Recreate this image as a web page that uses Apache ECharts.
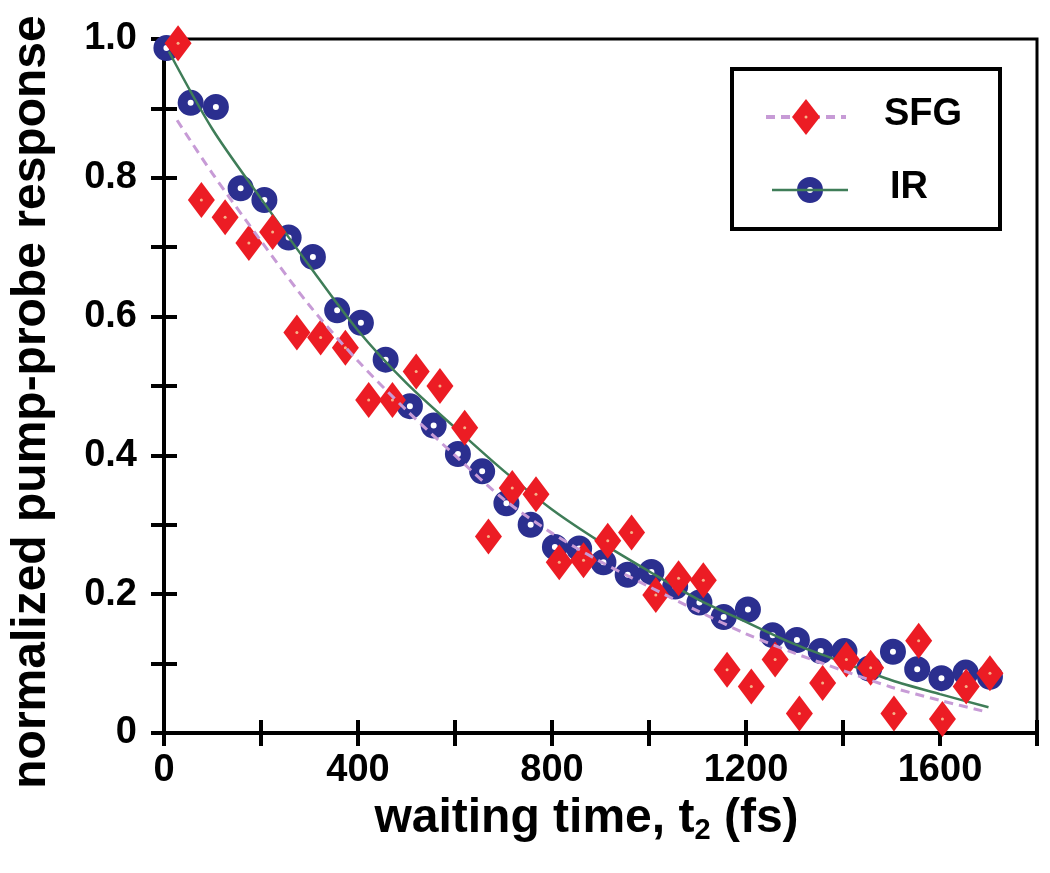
<!DOCTYPE html>
<html>
<head>
<meta charset="utf-8">
<script src="https://cdn.jsdelivr.net/npm/echarts@6/dist/echarts.min.js"></script>
<style>
html,body{margin:0;padding:0;background:#fff;}
#chart{width:1050px;height:873px;}
</style>
</head>
<body>
<div id="chart"></div>
<script>
// ---- data ----
const irX = [5, 55, 107, 158, 207, 257, 307, 357, 406, 457, 507, 556, 606, 656, 706, 756, 806, 856, 906, 956, 1005, 1054, 1104, 1154, 1204, 1255, 1305, 1354, 1403, 1454, 1503, 1553, 1603, 1653, 1703];
const irY = [0.987, 0.908, 0.902, 0.785, 0.768, 0.714, 0.686, 0.609, 0.591, 0.538, 0.471, 0.443, 0.402, 0.377, 0.331, 0.300, 0.268, 0.266, 0.246, 0.228, 0.232, 0.211, 0.188, 0.167, 0.178, 0.141, 0.134, 0.118, 0.118, 0.093, 0.117, 0.092, 0.079, 0.087, 0.081];

const sfgX = [29, 77, 126, 175, 224, 274, 323, 374, 422, 471, 520, 569, 620, 669, 718, 767, 815, 865, 915, 964, 1014, 1061, 1112, 1161, 1211, 1260, 1310, 1358, 1407, 1457, 1505, 1556, 1605, 1654, 1703];
const sfgY = [0.994, 0.768, 0.743, 0.706, 0.722, 0.577, 0.570, 0.555, 0.480, 0.480, 0.521, 0.500, 0.440, 0.283, 0.353, 0.344, 0.246, 0.249, 0.277, 0.289, 0.199, 0.223, 0.220, 0.091, 0.067, 0.106, 0.028, 0.072, 0.106, 0.094, 0.028, 0.133, 0.020, 0.067, 0.086];

// fitted curves
const irFitX = [10, 100, 200, 300, 400, 500, 600, 700, 800, 900, 1000, 1100, 1200, 1300, 1400, 1500, 1600, 1700];
const irFitY = [0.982, 0.870, 0.770, 0.673, 0.580, 0.504, 0.440, 0.378, 0.322, 0.275, 0.233, 0.193, 0.160, 0.128, 0.102, 0.076, 0.056, 0.037];

const sfgFitX = [27, 100, 200, 300, 400, 500, 600, 700, 800, 900, 1000, 1100, 1200, 1300, 1400, 1500, 1600, 1698];
const sfgFitY = [0.883, 0.806, 0.709, 0.616, 0.536, 0.465, 0.400, 0.337, 0.288, 0.247, 0.211, 0.176, 0.143, 0.115, 0.090, 0.066, 0.047, 0.030];

const xLabelValues = [0, 400, 800, 1200, 1600];
const yLabelValues = [0, 0.2, 0.4, 0.6, 0.8, 1.0];
const yLabelTexts = ['0', '0.2', '0.4', '0.6', '0.8', '1.0'];

const seriesNames = ['SFG', 'IR'];
const xTitle = 'waiting time, t';
const yTitle = 'normalized pump-probe response';

// ---- helpers ----
const zip = (xs, ys) => xs.map((x, i) => [x, ys[i]]);
const FONT = '"Liberation Sans", Arial, Helvetica, sans-serif';
const BLUE = '#2b2f8f', RED = '#ec1c24', GREEN = '#3f7d58', PINK = '#c79bd6', DOT = '#f6b38a';

const chart = echarts.init(document.getElementById('chart'), null, {renderer: 'canvas'});

const tickStyle = {color: '#000', width: 4};
const option = {
  backgroundColor: '#fff',
  animation: false,
  grid: {left: 155, right: 13, top: 39, bottom: 140, show: true, borderColor: '#000', borderWidth: 3, backgroundColor: 'transparent'},
  xAxis: [{
    type: 'value', min: 0, max: 1800, interval: 200, position: 'bottom',
    axisLine: {show: true, onZero: false, lineStyle: tickStyle},
    axisTick: {show: true, inside: false, length: 13, lineStyle: tickStyle},
    splitLine: {show: false},
    axisLabel: {
      margin: 19, color: '#000', fontFamily: FONT, fontWeight: 'bold', fontSize: 38,
      formatter: v => xLabelValues.indexOf(Math.round(v)) >= 0 ? String(Math.round(v)) : ''
    },
    name: xTitle + '{sub|2} (fs)', nameLocation: 'middle', nameGap: 54,
    nameTextStyle: {
      color: '#000', fontFamily: FONT, fontWeight: 'bold', fontSize: 48, padding: [0, 28, 0, 0],
      rich: {sub: {fontFamily: FONT, fontWeight: 'bold', fontSize: 29, verticalAlign: 'bottom', padding: [24, 0, 0, 0]}}
    }
  }, {
    type: 'value', min: 0, max: 1800, interval: 200, position: 'bottom', offset: 0,
    axisLine: {show: false, onZero: false},
    axisTick: {show: true, inside: true, length: 13, lineStyle: tickStyle},
    axisLabel: {show: false}, splitLine: {show: false}
  }],
  yAxis: [{
    type: 'value', min: 0, max: 1, interval: 0.1, position: 'left',
    axisLine: {show: true, onZero: false, lineStyle: tickStyle},
    axisTick: {show: true, inside: false, length: 13, lineStyle: tickStyle},
    splitLine: {show: false},
    axisLabel: {
      margin: 27, color: '#000', fontFamily: FONT, fontWeight: 'bold', fontSize: 38,
      formatter: v => {
        const i = yLabelValues.findIndex(t => Math.abs(t - v) < 1e-6);
        return i >= 0 ? yLabelTexts[i] : '';
      }
    },
    name: yTitle, nameLocation: 'middle', nameGap: 108, nameRotate: 90,
    nameTextStyle: {color: '#000', fontFamily: FONT, fontWeight: 'bold', fontSize: 48, padding: [0, 32, 0, 0]}
  }, {
    type: 'value', min: 0, max: 1, interval: 0.1, position: 'left', offset: 0,
    axisLine: {show: false, onZero: false},
    axisTick: {show: true, inside: true, length: 13, lineStyle: tickStyle},
    axisLabel: {show: false}, splitLine: {show: false}
  }],
  series: [
    {
      name: seriesNames[1] + ' data', type: 'scatter', data: zip(irX, irY), z: 2,
      symbol: 'circle', symbolSize: 16,
      itemStyle: {color: '#fff', borderColor: BLUE, borderWidth: 10, opacity: 1}, silent: true
    },
    {
      name: seriesNames[1] + ' fit', type: 'line', data: zip(irFitX, irFitY), z: 3,
      showSymbol: false, smooth: 0.3,
      lineStyle: {color: GREEN, width: 2.5}, silent: true
    },
    {
      name: seriesNames[0] + ' data', type: 'scatter', data: zip(sfgX, sfgY), z: 4,
      symbol: 'diamond', symbolSize: [27, 36],
      itemStyle: {color: RED, opacity: 1}, silent: true
    },
    {
      name: seriesNames[0] + ' dot', type: 'scatter', data: zip(sfgX, sfgY), z: 5,
      symbol: 'circle', symbolSize: 3, itemStyle: {color: DOT, opacity: 1}, silent: true
    },
    {
      name: seriesNames[0] + ' fit', type: 'line', data: zip(sfgFitX, sfgFitY), z: 6,
      showSymbol: false, smooth: 0.3,
      lineStyle: {color: PINK, width: 3, type: [9, 6]}, silent: true
    }
  ],
  graphic: [
    {type: 'rect', left: 730, top: 67, z: 100, shape: {width: 268, height: 160}, style: {fill: '#fff', stroke: '#000', lineWidth: 4}},
    {type: 'line', z: 101, shape: {x1: 766, y1: 117, x2: 846, y2: 117}, style: {stroke: PINK, lineWidth: 4, lineDash: [9, 6]}},
    {type: 'polygon', z: 102, shape: {points: [[806, 99], [820, 117], [806, 135], [792, 117]]}, style: {fill: RED}},
    {type: 'circle', z: 103, shape: {cx: 806, cy: 117, r: 1.5}, style: {fill: DOT}},
    {type: 'text', z: 102, left: 884, top: 96, style: {text: seriesNames[0], fill: '#000', font: 'bold 38px ' + FONT}},
    {type: 'circle', z: 102, shape: {cx: 810, cy: 190, r: 8}, style: {fill: '#fff', stroke: BLUE, lineWidth: 10}},
    {type: 'line', z: 103, shape: {x1: 772, y1: 190, x2: 848, y2: 190}, style: {stroke: GREEN, lineWidth: 2.5}},
    {type: 'text', z: 102, left: 890, top: 169, style: {text: seriesNames[1], fill: '#000', font: 'bold 38px ' + FONT}}
  ]
};
chart.setOption(option);
</script>
</body>
</html>
